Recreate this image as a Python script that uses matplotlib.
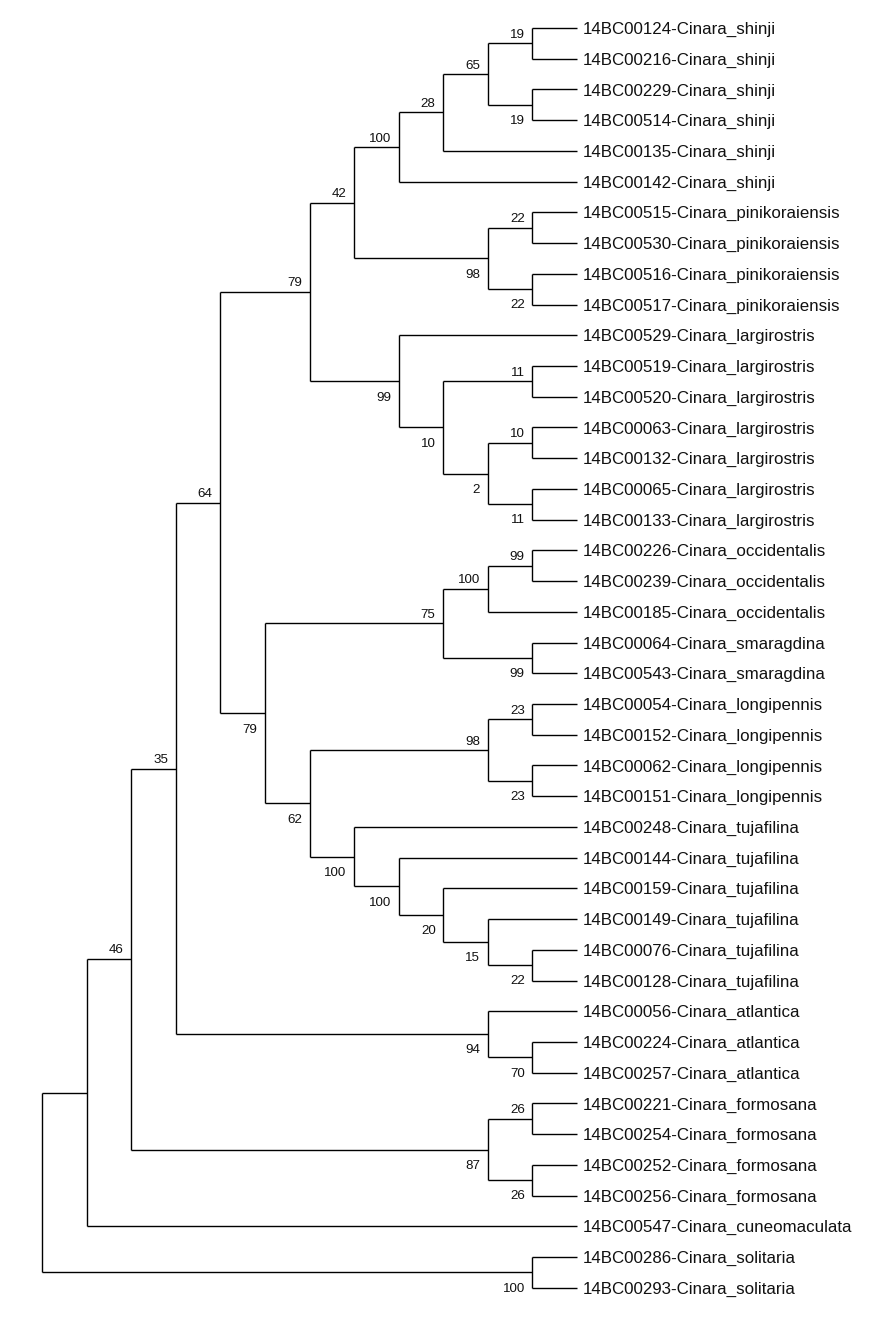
import matplotlib
matplotlib.use("Agg")
import matplotlib.pyplot as plt

plt.rcParams["font.family"] = ["Liberation Sans", "DejaVu Sans"]

# Leaf labels, top to bottom
leaf_names = [
    "14BC00124-Cinara_shinji", "14BC00216-Cinara_shinji", "14BC00229-Cinara_shinji",
    "14BC00514-Cinara_shinji", "14BC00135-Cinara_shinji", "14BC00142-Cinara_shinji",
    "14BC00515-Cinara_pinikoraiensis", "14BC00530-Cinara_pinikoraiensis",
    "14BC00516-Cinara_pinikoraiensis", "14BC00517-Cinara_pinikoraiensis",
    "14BC00529-Cinara_largirostris", "14BC00519-Cinara_largirostris",
    "14BC00520-Cinara_largirostris", "14BC00063-Cinara_largirostris",
    "14BC00132-Cinara_largirostris", "14BC00065-Cinara_largirostris",
    "14BC00133-Cinara_largirostris", "14BC00226-Cinara_occidentalis",
    "14BC00239-Cinara_occidentalis", "14BC00185-Cinara_occidentalis",
    "14BC00064-Cinara_smaragdina", "14BC00543-Cinara_smaragdina",
    "14BC00054-Cinara_longipennis", "14BC00152-Cinara_longipennis",
    "14BC00062-Cinara_longipennis", "14BC00151-Cinara_longipennis",
    "14BC00248-Cinara_tujafilina", "14BC00144-Cinara_tujafilina",
    "14BC00159-Cinara_tujafilina", "14BC00149-Cinara_tujafilina",
    "14BC00076-Cinara_tujafilina", "14BC00128-Cinara_tujafilina",
    "14BC00056-Cinara_atlantica", "14BC00224-Cinara_atlantica",
    "14BC00257-Cinara_atlantica", "14BC00221-Cinara_formosana",
    "14BC00254-Cinara_formosana", "14BC00252-Cinara_formosana",
    "14BC00256-Cinara_formosana", "14BC00547-Cinara_cuneomaculata",
    "14BC00286-Cinara_solitaria", "14BC00293-Cinara_solitaria",
]
leaf_depth = 12

# Internal nodes: depth (cladogram level), bootstrap support, children
# (int = leaf index, str = another internal node)
node_names = [
    "root", "c1", "c2", "c3", "c4", "c5", "c7", "sh", "sh2", "sh3", "sha", "shb",
    "pin", "pina", "pinb", "lar", "lar2", "lar3", "lar4", "lar5", "lar6",
    "c6", "occ", "occ2", "occ3", "sma", "c8", "lon", "lona", "lonb",
    "tuj", "tuj2", "tuj3", "tuj4", "tuj5", "atl", "atl2", "for", "fora", "forb", "sol",
]
node_depth = [
    0, 1, 2, 3, 4, 6, 7, 8, 9, 10, 11, 11,
    10, 11, 11, 8, 9, 11, 10, 11, 11,
    5, 9, 10, 11, 11, 6, 10, 11, 11,
    7, 8, 9, 10, 11, 10, 11, 10, 11, 11, 11,
]
node_support = [
    "", "", "46", "35", "64", "79", "42", "100", "28", "65", "19", "19",
    "98", "22", "22", "99", "10", "11", "2", "10", "11",
    "79", "75", "100", "99", "99", "62", "98", "23", "23",
    "100", "100", "20", "15", "22", "94", "70", "87", "26", "26", "100",
]
node_children = [
    ["c1", "sol"], ["c2", 39], ["c3", "for"], ["c4", "atl"], ["c5", "c6"],
    ["c7", "lar"], ["sh", "pin"], ["sh2", 5], ["sh3", 4], ["sha", "shb"],
    [0, 1], [2, 3], ["pina", "pinb"], [6, 7], [8, 9],
    [10, "lar2"], ["lar3", "lar4"], [11, 12], ["lar5", "lar6"], [13, 14], [15, 16],
    ["occ", "c8"], ["occ2", "sma"], ["occ3", 19], [17, 18], [20, 21],
    ["lon", "tuj"], ["lona", "lonb"], [22, 23], [24, 25],
    [26, "tuj2"], [27, "tuj3"], [28, "tuj4"], [29, "tuj5"], [30, 31],
    [32, "atl2"], [33, 34], ["fora", "forb"], [35, 36], [37, 38], [40, 41],
]

depth = dict(zip(node_names, node_depth))
support = dict(zip(node_names, node_support))
children = dict(zip(node_names, node_children))


def pos(item):
    """Return (x, y) of a leaf index or internal node name."""
    if isinstance(item, int):
        return leaf_depth, item
    ys = [pos(c)[1] for c in children[item]]
    return depth[item], (ys[0] + ys[-1]) / 2


fig = plt.figure(figsize=(8.82, 13.17), dpi=100)
ax = fig.add_axes([0, 0, 1, 1])
ax.set_xlim(-0.942, 18.84)
ax.set_ylim(41.95, -0.911)
ax.axis("off")

lw = 1.0
for name in node_names:
    x, y = pos(name)
    kids = children[name]
    ys = [pos(c)[1] for c in kids]
    ax.plot([x, x], [ys[0], ys[-1]], color="black", lw=lw, solid_capstyle="butt")
    for i, c in enumerate(kids):
        cx, cy = pos(c)
        ax.plot([x, cx], [cy, cy], color="black", lw=lw, solid_capstyle="butt")
        if isinstance(c, str) and support[c]:
            # bootstrap value just left of the node, above upper / below lower branch
            dy = 4.0 if i == 0 else -13.8
            ax.annotate(support[c], (cx, cy), xytext=(-5.5, dy),
                        textcoords="offset points", ha="right", va="baseline",
                        fontsize=9.6, color="#111111")

for i, label in enumerate(leaf_names):
    ax.annotate(label, (leaf_depth, i), xytext=(4.3, -4.3),
                textcoords="offset points", ha="left", va="baseline",
                fontsize=12.2, color="#111111")

fig.savefig("out.png", dpi=100)
